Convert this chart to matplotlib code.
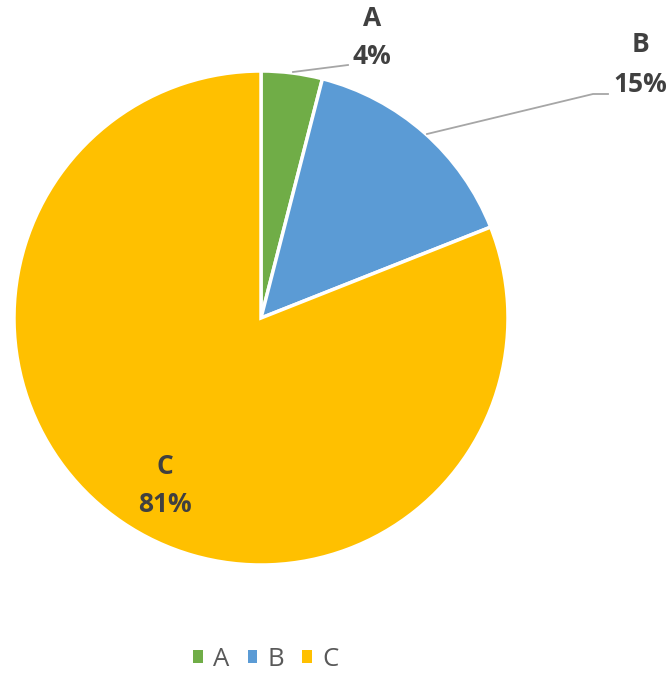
import matplotlib.pyplot as plt
from matplotlib.patches import Patch

labels = ['A', 'B', 'C']
values = [4, 15, 81]
colors = ['#70AD47', '#5B9BD5', '#FFC000']
text_color = '#404040'

plt.rcParams['font.family'] = ['Open Sans', 'DejaVu Sans']

fig = plt.figure(figsize=(6.71, 6.76), dpi=100)
ax = fig.add_axes([0, 0, 1, 1])

cx, cy, r = 261, 358, 247
ax.pie(values, colors=colors, startangle=90, counterclock=False,
       center=(cx, cy), radius=r, frame=True,
       wedgeprops=dict(edgecolor='white', linewidth=2.5))
ax.set_xlim(0, 671)
ax.set_ylim(0, 676)
ax.set_aspect('equal')
ax.axis('off')

# data labels (x, y of name, y of percent)
lab_pos = [(372, 658, 620), (640, 631, 591), (165, 209, 172)]
for lab, v, (x, y1, y2) in zip(labels, values, lab_pos):
    ax.text(x, y1, lab, ha='center', va='center', fontsize=19,
            fontweight='bold', color=text_color)
    ax.text(x, y2, f'{v}%', ha='center', va='center', fontsize=19,
            fontweight='bold', color=text_color)

# leader lines
ax.plot([293, 348], [676 - 72, 676 - 65], color='#A6A6A6', lw=1.3)
ax.plot([427, 593, 608], [676 - 134, 676 - 94, 676 - 94], color='#A6A6A6', lw=1.3)

handles = [Patch(facecolor=c, edgecolor='none') for c in colors]
fig.legend(handles, labels, loc='center', bbox_to_anchor=(266 / 671, 1 - 659 / 676),
           ncol=3, frameon=False, fontsize=18.5, handlelength=0.38, handleheight=0.38,
           handletextpad=0.4, columnspacing=0.7, labelcolor='#595959')

fig.savefig('out.png', dpi=100)
